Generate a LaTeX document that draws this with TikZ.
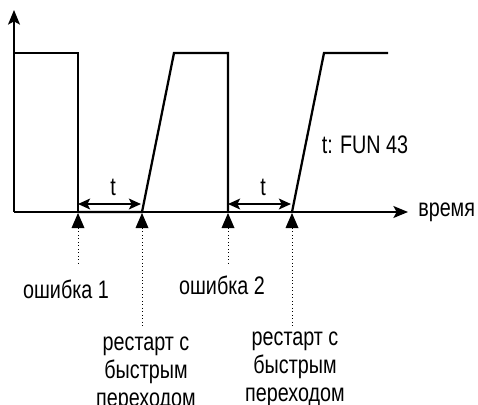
\documentclass[tikz,border=0pt]{standalone}
\usepackage{fontspec}
\setmainfont{Liberation Sans}[FakeStretch=0.78]
\usetikzlibrary{arrows.meta}
\begin{document}
\begin{tikzpicture}[x=0.75pt,y=-0.75pt,
  axisline/.style={line width=1.1pt,-{Stealth[length=11pt,width=9pt,inset=2.5pt]}},
  signal/.style={line width=1.7pt,line join=miter},
  tarrow/.style={line width=2pt,{Stealth[length=9pt,width=8pt,inset=2pt]}-{Stealth[length=9pt,width=8pt,inset=2pt]}},
  mark tri/.style={fill=black},
  guide/.style={dotted,line width=0.6pt},
  lbl/.style={font=\fontsize{19pt}{21pt}\selectfont,inner sep=0pt,align=center}]
\useasboundingbox (0,0) rectangle (478,404);
% axes
\coordinate (o) at (14,212);
\coordinate (ytop) at (14,10);
\coordinate (xend) at (408,212);
\draw[axisline] (o) -- (ytop);
\draw[axisline] (o) -- (xend);
% signal
\coordinate (s0) at (14,53);
\coordinate (f1) at (78,53);
\coordinate (e1) at (78,212);
\coordinate (r1) at (142,212);
\coordinate (h1) at (174,53);
\coordinate (f2) at (228,53);
\coordinate (e2) at (228,212);
\coordinate (r2) at (292,212);
\coordinate (h2) at (324,53);
\coordinate (s3) at (388,53);
\draw[signal] (s0) -- (f1) -- (e1);
\draw[signal] (e1) -- (r1) -- (h1) -- (f2) -- (e2);
\draw[signal] (r2) -- (h2) -- (s3);
% t arrows
\coordinate (ta1) at (78,204);
\coordinate (tb1) at (141,204);
\coordinate (ta2) at (228,204);
\coordinate (tb2) at (291,204);
\draw[tarrow] (ta1) -- (tb1);
\draw[tarrow] (ta2) -- (tb2);
\node[lbl] (t1) at (113,187) {t};
\node[lbl] (t2) at (263,187) {t};
\node[lbl] (fun) at (365,145) {t: FUN 43};
\node[lbl,anchor=west] (time) at (418,212) {время};
% event markers
\foreach \n/\x in {m1/78,m2/142,m3/228,m4/292}{
  \coordinate (\n) at (\x,213);
  \fill[mark tri] (\n) -- ++(6.5,15) -- ++(-13,0) -- cycle;
  \coordinate (\n b) at (\x,228);
}
\coordinate (d1) at (78,265);
\coordinate (d2) at (142,328);
\coordinate (d3) at (228,265);
\coordinate (d4) at (292,328);
\draw[guide] (m1b) -- (d1);
\draw[guide] (m2b) -- (d2);
\draw[guide] (m3b) -- (d3);
\draw[guide] (m4b) -- (d4);
% labels
\node[lbl] (err1) at (66,289) {ошибка 1};
\node[lbl] (err2) at (222,285) {ошибка 2};
\node[lbl,anchor=north] (rst1) at (146,337) {рестарт с\\быстрым\\переходом};
\node[lbl,anchor=north] (rst2) at (295,332) {рестарт с\\быстрым\\переходом};
\end{tikzpicture}
\end{document}
